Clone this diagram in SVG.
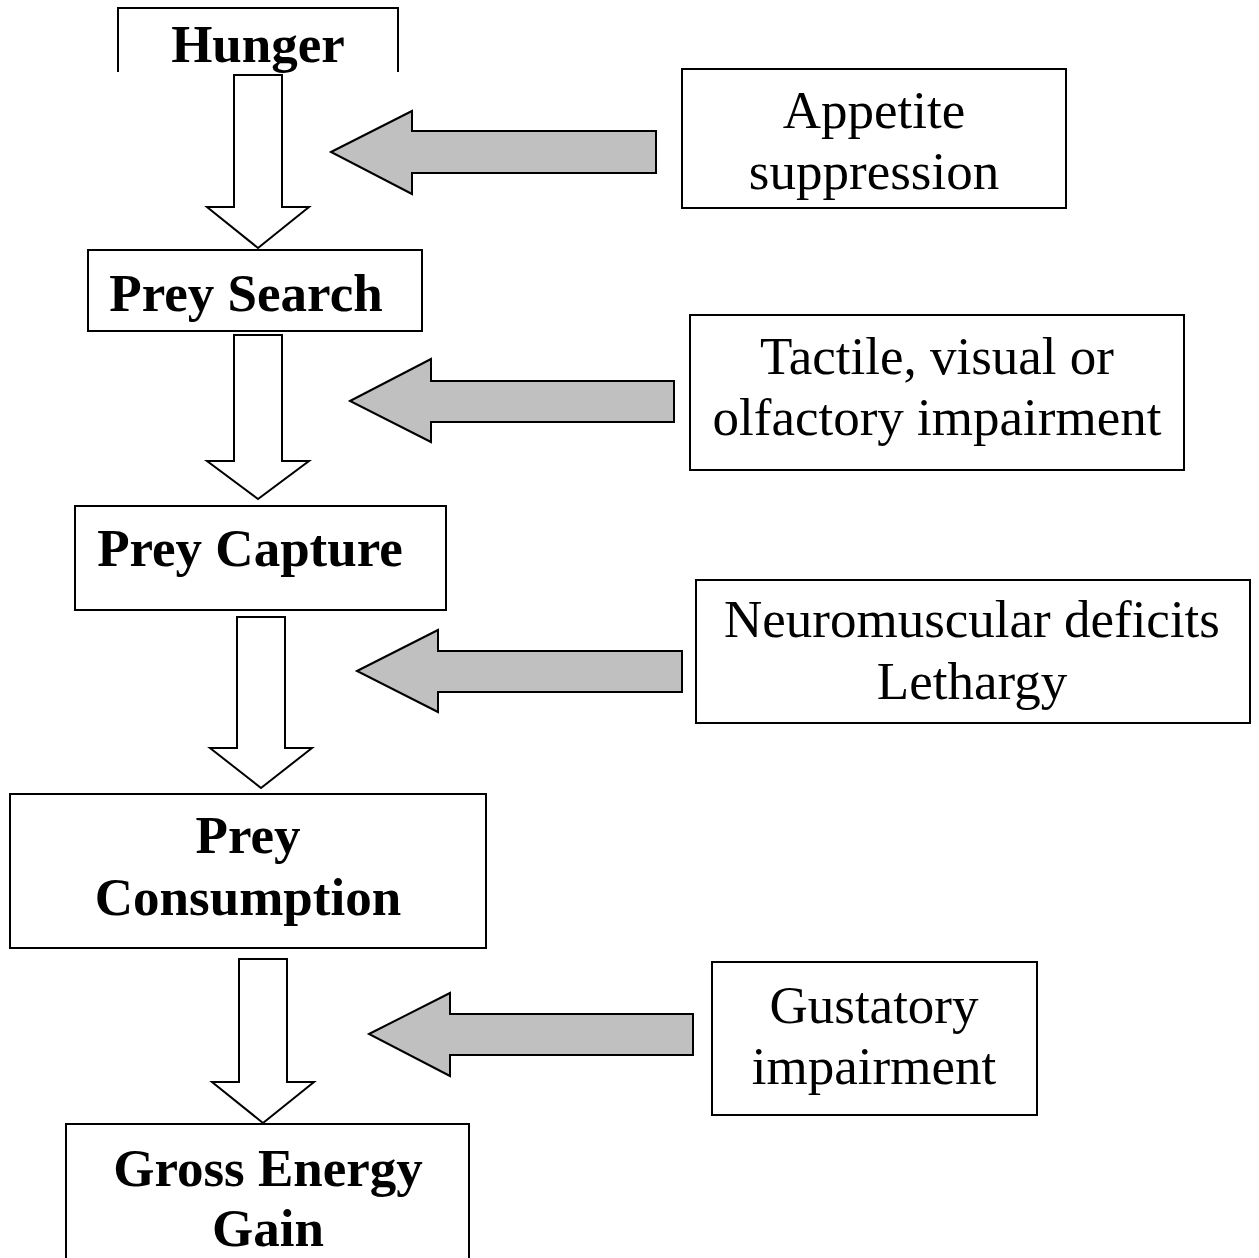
<svg xmlns="http://www.w3.org/2000/svg" width="1259" height="1258" viewBox="0 0 1259 1258">
<style>
.box{fill:#fff;stroke:#000;stroke-width:2}
.down{fill:#fff;stroke:#000;stroke-width:2;stroke-linejoin:miter}
.left{fill:#c0c0c0;stroke:#000;stroke-width:2;stroke-linejoin:miter}
.b{font-family:"Liberation Serif","Times New Roman",serif;font-size:53px;font-weight:bold;text-anchor:middle;fill:#000}
.r{font-family:"Liberation Serif","Times New Roman",serif;font-size:53px;text-anchor:middle;fill:#000}
</style>
<rect width="1259" height="1258" fill="#fff"/>
<g id="connectors">
<polygon class="down" points="234,75 282,75 282,207 309,207 258,248 207,207 234,207"/>
<polygon class="down" points="234,335 282,335 282,461 309,461 258,499 207,461 234,461"/>
<polygon class="down" points="237,617 285,617 285,748 312,748 261,788 210,748 237,748"/>
<polygon class="down" points="239,959 287,959 287,1082 314,1082 263,1123 212,1082 239,1082"/>
<polygon class="left" points="331,152 412,111 412,131 656,131 656,173 412,173 412,194"/>
<polygon class="left" points="350,401 431,359 431,381 674,381 674,422 431,422 431,442"/>
<polygon class="left" points="357,671 438,630 438,651 682,651 682,692 438,692 438,712"/>
<polygon class="left" points="369,1034 450,993 450,1014 693,1014 693,1055 450,1055 450,1076"/>
</g>
<g id="hunger">
<path d="M118,72 V8 H398 V72" fill="none" stroke="#000" stroke-width="2"/>
<text class="b" x="258" y="62">Hunger</text>
</g>
<g id="prey-search">
<rect class="box" x="88" y="250" width="334" height="81"/>
<text class="b" x="246" y="311">Prey Search</text>
</g>
<g id="prey-capture">
<rect class="box" x="75" y="506" width="371" height="104"/>
<text class="b" x="250" y="566">Prey Capture</text>
</g>
<g id="prey-consumption">
<rect class="box" x="10" y="794" width="476" height="154"/>
<text class="b" x="248" y="853">Prey</text>
<text class="b" x="248" y="915">Consumption</text>
</g>
<g id="gross-energy-gain">
<rect class="box" x="66" y="1124" width="403" height="150"/>
<text class="b" x="268" y="1186">Gross Energy</text>
<text class="b" x="268" y="1246">Gain</text>
</g>
<g id="appetite-suppression">
<rect class="box" x="682" y="69" width="384" height="139"/>
<text class="r" x="874" y="128">Appetite</text>
<text class="r" x="874" y="189">suppression</text>
</g>
<g id="sensory-impairment">
<rect class="box" x="690" y="315" width="494" height="155"/>
<text class="r" x="937" y="374">Tactile, visual or</text>
<text class="r" x="937" y="435">olfactory impairment</text>
</g>
<g id="neuromuscular">
<rect class="box" x="696" y="580" width="554" height="143"/>
<text class="r" x="972" y="637">Neuromuscular deficits</text>
<text class="r" x="972" y="699">Lethargy</text>
</g>
<g id="gustatory">
<rect class="box" x="712" y="962" width="325" height="153"/>
<text class="r" x="874" y="1023">Gustatory</text>
<text class="r" x="874" y="1084">impairment</text>
</g>
</svg>
